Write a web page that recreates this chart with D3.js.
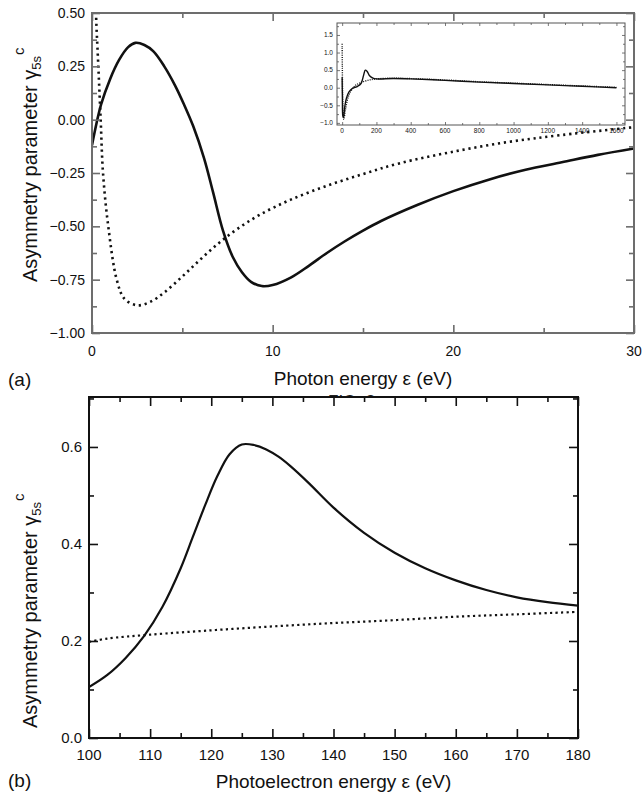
<!DOCTYPE html>
<html>
<head>
<meta charset="utf-8">
<script src="https://cdn.jsdelivr.net/npm/d3@7"></script>
<style>
  body { margin: 0; background: #fff; }
  svg { display: block; font-family: "Liberation Sans", Arial, sans-serif; }
</style>
</head>
<body>
<svg id="chart" width="642" height="795"></svg>
<script>
// panel (a): photon energy, main curves
const aSolidX = [0, 0.5, 1, 1.5, 2, 2.4, 2.9, 3.4, 4, 4.6, 5.1, 5.6, 6.2, 6.7, 7.25, 7.8, 8.3, 8.8, 9.4, 10, 11, 12, 13, 14, 15, 16, 18, 20, 22, 24, 26, 28, 30];
const aSolidY = [-0.12, 0.07, 0.19, 0.28, 0.34, 0.36, 0.35, 0.32, 0.25, 0.16, 0.07, -0.03, -0.18, -0.34, -0.52, -0.645, -0.715, -0.76, -0.78, -0.775, -0.74, -0.685, -0.625, -0.57, -0.52, -0.475, -0.4, -0.335, -0.28, -0.235, -0.2, -0.165, -0.135];
const aDotX = [0.1, 0.22, 0.35, 0.48, 0.61, 0.9, 1.37, 1.8, 2.5, 3.2, 4, 5, 6, 7, 8, 9.3, 11, 13, 15, 17, 20, 23, 26, 30];
const aDotY = [0.9, 0.5, 0.25, 0.0, -0.25, -0.5, -0.75, -0.84, -0.87, -0.855, -0.81, -0.735, -0.655, -0.58, -0.515, -0.445, -0.375, -0.31, -0.255, -0.205, -0.15, -0.105, -0.072, -0.035];
const aXTicks = [0, 10, 20, 30];
const aYTicks = [-1.0, -0.75, -0.5, -0.25, 0.0, 0.25, 0.5];

// inset of panel (a): 0 - 1600 eV
const inSolidX = [0, 1.5, 4, 8, 15, 25, 40, 60, 90, 110, 125, 135, 145, 160, 180, 200, 300, 400, 600, 800, 1000, 1200, 1400, 1600];
const inSolidY = [0.3, -0.3, -0.8, -0.85, -0.55, -0.3, -0.12, -0.02, 0.04, 0.12, 0.35, 0.5, 0.47, 0.34, 0.27, 0.25, 0.26, 0.25, 0.21, 0.16, 0.12, 0.08, 0.04, 0.0];
const inDotX = [0, 1, 3, 6, 10, 20, 40, 70, 100, 150, 200, 300, 400, 600, 800, 1000, 1200, 1400, 1600];
const inDotY = [1.25, 0.6, -0.2, -0.75, -0.9, -0.6, -0.2, 0.03, 0.13, 0.21, 0.25, 0.27, 0.26, 0.22, 0.17, 0.13, 0.09, 0.05, 0.01];
const inXTicks = [0, 200, 400, 600, 800, 1000, 1200, 1400, 1600];
const inYTicks = [-1.0, -0.5, 0.0, 0.5, 1.0, 1.5];

// panel (b): photoelectron energy
const bSolidX = [100, 103, 106, 109, 112, 115, 117, 119, 121, 123, 125, 127, 129, 131, 133, 136, 140, 145, 150, 155, 160, 165, 170, 175, 180];
const bSolidY = [0.105, 0.13, 0.165, 0.21, 0.27, 0.35, 0.415, 0.48, 0.54, 0.585, 0.605, 0.604, 0.595, 0.58, 0.56, 0.525, 0.475, 0.423, 0.382, 0.35, 0.325, 0.305, 0.29, 0.28, 0.273];
const bDotX = [100, 103, 110, 120, 130, 140, 150, 160, 170, 180];
const bDotY = [0.198, 0.205, 0.213, 0.222, 0.23, 0.237, 0.243, 0.25, 0.255, 0.26];
const bXTicks = [100, 110, 120, 130, 140, 150, 160, 170, 180];
const bYTicks = [0.0, 0.2, 0.4, 0.6];

const svg = d3.select("#chart");

function zip(xs, ys) {
    return xs.map((x, i) => ({ x: x, y: ys[i] }));
}

// draws a frame with inward ticks on all four sides
function frame(g, x, y, opt) {
    const [x0, x1] = x.range();
    const [y0, y1] = y.range();
    const sides = [
        [d3.axisBottom(x), `translate(0,${y0})`, opt.xMinor, opt.minor],
        [d3.axisBottom(x), `translate(0,${y0})`, opt.xMajor, opt.major],
        [d3.axisTop(x), `translate(0,${y1})`, opt.xMinor, opt.minor],
        [d3.axisTop(x), `translate(0,${y1})`, opt.xMajor, opt.major],
        [d3.axisLeft(y), `translate(${x0},0)`, opt.yMinor, opt.minor],
        [d3.axisLeft(y), `translate(${x0},0)`, opt.yMajor, opt.major],
        [d3.axisRight(y), `translate(${x1},0)`, opt.yMinor, opt.minor],
        [d3.axisRight(y), `translate(${x1},0)`, opt.yMajor, opt.major]
    ];
    sides.forEach(([axis, t, ticks, len]) => {
        const a = g.append("g").attr("transform", t)
            .call(axis.tickValues(ticks).tickSize(-len).tickFormat(""));
        a.select(".domain").remove();
        a.selectAll("line").attr("stroke", opt.color).attr("stroke-width", opt.tickWidth);
    });
    g.append("rect")
        .attr("x", x0).attr("y", y1).attr("width", x1 - x0).attr("height", y0 - y1)
        .attr("fill", "none").attr("stroke", opt.color).attr("stroke-width", opt.frameWidth);
}

function labels(g, x, y, opt) {
    const [x0] = x.range();
    const [y0] = y.range();
    g.selectAll(null).data(opt.xTicks).enter().append("text")
        .attr("x", d => x(d)).attr("y", y0 + opt.xOff)
        .attr("text-anchor", "middle").attr("font-size", opt.size).attr("fill", "#111")
        .text(opt.xFmt);
    g.selectAll(null).data(opt.yTicks).enter().append("text")
        .attr("x", x0 - opt.yOff).attr("y", d => y(d)).attr("dy", "0.36em")
        .attr("text-anchor", "end").attr("font-size", opt.size).attr("fill", "#111")
        .text(opt.yFmt);
}

function curves(g, x, y, solid, dotted, clipId, sw, dash) {
    const line = d3.line().x(d => x(d.x)).y(d => y(d.y)).curve(d3.curveCatmullRom.alpha(0.5));
    const c = g.append("g").attr("clip-path", `url(#${clipId})`);
    c.append("path").datum(dotted).attr("d", line)
        .attr("fill", "none").attr("stroke", "#111").attr("stroke-width", sw)
        .attr("stroke-dasharray", dash);
    c.append("path").datum(solid).attr("d", line)
        .attr("fill", "none").attr("stroke", "#111").attr("stroke-width", sw);
}

function clip(id, x, y) {
    const [x0, x1] = x.range();
    const [y0, y1] = y.range();
    svg.append("clipPath").attr("id", id).append("rect")
        .attr("x", x0).attr("y", y1).attr("width", x1 - x0).attr("height", y0 - y1);
}

function yTitle(g, tx, ty) {
    const t = g.append("text")
        .attr("transform", `translate(${tx},${ty}) rotate(-90)`)
        .attr("font-size", 20).attr("fill", "#111");
    t.append("tspan").text("Asymmetry parameter γ");
    t.append("tspan").attr("font-size", 13).attr("dy", 4).text("5s");
    t.append("tspan").attr("font-size", 15).attr("dy", -17).attr("dx", 1).text("c");
}

// ---------- panel (a) ----------
const ax = d3.scaleLinear().domain([0, 30]).range([92, 634]);
const ay = d3.scaleLinear().domain([-1.0, 0.5]).range([333, 13]);
const ga = svg.append("g");
clip("clipA", ax, ay);
curves(ga, ax, ay, zip(aSolidX, aSolidY), zip(aDotX, aDotY), "clipA", 2.6, "2.2,3.8");
frame(ga, ax, ay, {
    xMajor: aXTicks, xMinor: [5, 15, 25],
    yMajor: aYTicks, yMinor: d3.range(-0.875, 0.5, 0.25),
    major: 8, minor: 5, color: "#6d6d6d", tickWidth: 1.6, frameWidth: 2
});
labels(ga, ax, ay, {
    xTicks: aXTicks, yTicks: aYTicks, xOff: 23, yOff: 7, size: 14,
    xFmt: d => d, yFmt: d => d3.format(".2f")(d)
});
ga.append("text").attr("x", ax(15)).attr("y", 385).attr("text-anchor", "middle")
    .attr("font-size", 19).attr("fill", "#111").text("Photon energy ε (eV)");
ga.append("text").attr("x", 8).attr("y", 386).attr("font-size", 19).attr("fill", "#111").text("(a)");
yTitle(ga, 37, 282);

// inset
const ix = d3.scaleLinear().domain([-30, 1650]).range([337, 625]);
const iy = d3.scaleLinear().domain([-1.06, 1.84]).range([125, 23]);
const gi = svg.append("g");
clip("clipI", ix, iy);
curves(gi, ix, iy, zip(inSolidX, inSolidY), zip(inDotX, inDotY), "clipI", 1.4, "1,1.2");
frame(gi, ix, iy, {
    xMajor: inXTicks, xMinor: d3.range(100, 1600, 200),
    yMajor: inYTicks, yMinor: [-0.75, -0.25, 0.25, 0.75, 1.25, 1.75],
    major: 3, minor: 2, color: "#555", tickWidth: 0.8, frameWidth: 1
});
labels(gi, ix, iy, {
    xTicks: inXTicks, yTicks: inYTicks, xOff: 8, yOff: 4, size: 6.5,
    xFmt: d => d, yFmt: d => d3.format(".1f")(d)
});

// partly hidden caption behind panel (b)
svg.append("clipPath").attr("id", "clipCap").append("rect")
    .attr("x", 300).attr("y", 380).attr("width", 120).attr("height", 16);
svg.append("text").attr("clip-path", "url(#clipCap)")
    .attr("x", 328).attr("y", 407).attr("font-size", 17).attr("fill", "#222").text("FIG. 2");

// ---------- panel (b) ----------
const bx = d3.scaleLinear().domain([100, 180]).range([89, 578]);
const by = d3.scaleLinear().domain([0.0, 0.703]).range([738, 397]);
const gb = svg.append("g");
clip("clipB", bx, by);
curves(gb, bx, by, zip(bSolidX, bSolidY), zip(bDotX, bDotY), "clipB", 2.2, "2.2,3.3");
frame(gb, bx, by, {
    xMajor: bXTicks, xMinor: d3.range(105, 180, 10),
    yMajor: bYTicks, yMinor: [0.1, 0.3, 0.5, 0.7],
    major: 9, minor: 5, color: "#111", tickWidth: 1.6, frameWidth: 2
});
labels(gb, bx, by, {
    xTicks: bXTicks, yTicks: bYTicks, xOff: 22, yOff: 7, size: 15,
    xFmt: d => d, yFmt: d => d3.format(".1f")(d)
});
gb.append("text").attr("x", bx(140)).attr("y", 788).attr("text-anchor", "middle")
    .attr("font-size", 19).attr("fill", "#111").text("Photoelectron energy ε (eV)");
gb.append("text").attr("x", 8).attr("y", 787).attr("font-size", 19).attr("fill", "#111").text("(b)");
yTitle(gb, 37, 728);
</script>
</body>
</html>
